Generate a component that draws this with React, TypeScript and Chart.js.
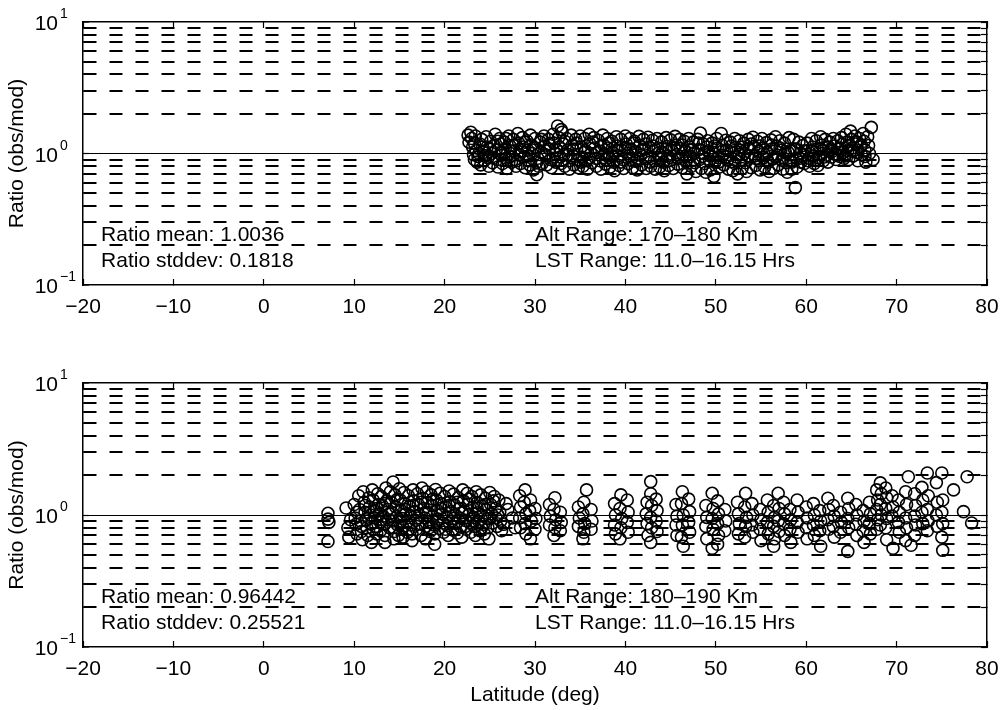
import React, { useEffect, useRef } from "react";
import { Chart, registerables } from "chart.js";

Chart.register(...registerables);

const FONT = "'Liberation Sans', Arial, Helvetica, sans-serif";

const xTickValues = [-20, -10, 0, 10, 20, 30, 40, 50, 60, 70, 80];
const yTickValues = [0.1, 0.2, 0.3, 0.4, 0.5, 0.6, 0.7, 0.8, 0.9, 1, 2, 3, 4, 5, 6, 7, 8, 9, 10];
const yMajorValues = [0.1, 1, 10];
const yExponents = ["\u22121", "0", "1"];

const yTitle = "Ratio (obs/mod)";
const xTitle = "Latitude (deg)";

const topStats = ["Ratio mean: 1.0036", "Ratio stddev: 0.1818"];
const topRanges = ["Alt Range: 170\u2013180 Km", "LST Range: 11.0\u201316.15 Hrs"];
const bottomStats = ["Ratio mean: 0.96442", "Ratio stddev: 0.25521"];
const bottomRanges = ["Alt Range: 180\u2013190 Km", "LST Range: 11.0\u201316.15 Hrs"];

// [latitude, ratio]
const topPoints: [number, number][] = [
  [22.6,1.38],[22.7,1.22],[22.9,1.45],[23.0,1.30],[23.1,1.12],[23.2,0.98],[23.3,0.90],[23.4,1.36],[23.5,1.05],[23.6,0.86],[23.7,0.95],[23.9,1.18],[24.0,0.82],[24.1,1.28],[24.3,1.02],[24.4,0.88],
  [24.6,1.34],[24.7,1.12],[24.8,0.93],[24.9,0.80],[25.1,1.24],[25.2,1.00],[25.3,0.85],[25.5,1.15],[25.6,1.40],[25.7,1.06],[25.8,0.90],[25.9,0.79],
  [26.1,1.30],[26.2,1.18],[26.3,0.97],[26.4,0.84],[26.6,1.22],[26.7,1.08],[26.8,0.92],[26.9,0.77],[27.1,1.36],[27.2,1.15],[27.3,1.00],[27.4,0.86],[27.6,1.28],[27.7,1.04],[27.8,0.90],[27.9,0.80],
  [28.1,1.42],[28.2,1.20],[28.3,0.98],[28.4,0.84],[28.6,1.32],[28.7,1.12],[28.8,0.94],[28.9,0.78],[29.1,1.25],[29.2,1.06],[29.3,0.88],[29.4,0.82],[29.5,1.38],[29.6,1.16],[29.7,1.00],[29.8,0.75],
  [30.0,1.30],[30.1,1.10],[30.2,0.69],[30.3,0.92],[30.4,0.80],[30.6,1.22],[30.7,1.02],[30.8,0.84],[31.0,1.36],[31.1,1.14],[31.2,0.96],[31.3,0.82],[31.5,1.28],[31.6,1.08],[31.7,0.90],[31.8,0.78],
  [32.0,1.40],[32.1,1.20],[32.2,1.00],[32.3,0.86],[32.5,1.62],[32.6,1.32],[32.7,1.12],[32.8,0.94],[32.9,1.52],[33.0,1.45],[33.1,1.18],[33.2,0.98],[33.3,0.80],[33.5,1.30],[33.6,1.06],[33.7,0.88],[33.8,0.76],
  [34.0,1.38],[34.1,1.15],[34.2,0.96],[34.3,0.82],[34.5,1.28],[34.6,1.08],[34.7,0.90],[34.8,0.78],[35.0,1.36],[35.1,1.12],[35.2,0.94],[35.3,0.80],[35.5,1.30],[35.6,1.05],[35.7,0.88],[35.8,0.76],
  [36.0,1.40],[36.1,1.18],[36.2,1.00],[36.3,0.85],[36.5,1.32],[36.6,1.10],[36.7,0.92],[36.8,0.80],[37.0,1.26],[37.1,1.04],[37.2,0.88],[37.3,0.76],[37.5,1.38],[37.6,1.16],[37.7,0.98],[37.8,0.83],
  [38.0,1.30],[38.1,1.10],[38.2,0.93],[38.3,0.79],[38.5,1.24],[38.6,1.02],[38.7,0.86],[38.8,0.74],[39.0,1.34],[39.1,1.14],[39.2,0.96],[39.3,0.81],[39.5,1.28],[39.6,1.06],[39.7,0.90],[39.8,0.77],
  [40.0,1.36],[40.1,1.18],[40.2,1.00],[40.3,0.84],[40.5,1.30],[40.6,1.08],[40.7,0.92],[40.8,0.78],[41.0,1.24],[41.1,1.03],[41.2,0.87],[41.3,0.75],[41.5,1.35],[41.6,1.15],[41.7,0.97],[41.8,0.82],
  [42.0,1.28],[42.1,1.08],[42.2,0.91],[42.3,0.77],[42.5,1.33],[42.6,1.12],[42.7,0.95],[42.8,0.80],[43.0,1.26],[43.1,1.05],[43.2,0.88],[43.3,0.76],[43.5,1.30],[43.6,1.10],[43.7,0.93],[43.8,0.79],
  [44.0,1.22],[44.1,1.02],[44.2,0.86],[44.3,0.74],[44.5,1.32],[44.6,1.13],[44.7,0.96],[44.8,0.81],[45.0,1.27],[45.1,1.06],[45.2,0.90],[45.3,0.77],[45.5,1.35],[45.6,1.16],[45.7,0.98],[45.8,0.83],
  [46.0,1.28],[46.1,1.09],[46.2,0.92],[46.3,0.78],[46.5,1.24],[46.6,1.04],[46.7,0.87],[46.8,0.70],[47.0,1.30],[47.1,1.12],[47.2,0.95],[47.3,0.80],[47.5,1.22],[47.6,1.01],[47.7,0.85],[47.8,0.73],
  [48.0,1.28],[48.1,1.07],[48.2,0.90],[48.3,1.43],[48.4,0.77],[48.6,1.18],[48.7,1.00],[48.8,0.84],[48.9,0.72],[49.1,1.25],[49.2,1.05],[49.3,0.88],[49.4,0.75],[49.6,1.20],[49.7,1.02],[49.8,0.67],[49.9,0.86],
  [50.1,1.30],[50.2,1.10],[50.3,0.93],[50.4,0.79],[50.6,1.42],[50.7,1.15],[50.8,0.97],[50.9,0.82],[51.1,1.26],[51.2,1.06],[51.3,0.89],[51.4,0.76],[51.6,1.22],[51.7,1.03],[51.8,0.87],[51.9,0.74],
  [52.1,1.30],[52.2,1.11],[52.3,0.94],[52.4,0.70],[52.6,1.25],[52.7,1.06],[52.8,0.90],[52.9,0.77],[53.1,1.20],[53.2,1.00],[53.3,0.85],[53.4,0.73],[53.6,1.28],[53.7,1.09],[53.8,0.92],[53.9,0.78],
  [54.1,1.33],[54.2,1.13],[54.3,0.96],[54.4,0.81],[54.6,1.24],[54.7,1.04],[54.8,0.88],[54.9,0.75],[55.1,1.30],[55.2,1.10],[55.3,0.93],[55.4,0.79],[55.6,1.21],[55.7,1.02],[55.8,0.86],[55.9,0.73],
  [56.1,1.27],[56.2,1.08],[56.3,0.91],[56.4,0.77],[56.6,1.34],[56.7,1.14],[56.8,0.97],[56.9,0.82],[57.1,1.25],[57.2,1.06],[57.3,0.89],[57.4,0.76],[57.6,1.20],[57.7,1.01],[57.8,0.85],[57.9,0.72],
  [58.1,1.32],[58.2,1.05],[58.3,0.88],[58.4,0.76],[58.6,1.28],[58.7,1.08],[58.8,0.55],[58.9,0.92],[59.0,0.79],[59.2,1.22],[59.3,1.00],[59.4,0.86],[59.6,1.15],[59.7,0.98],[59.8,0.84],
  [60.1,1.20],[60.2,1.05],[60.3,0.92],[60.4,0.80],[60.6,1.30],[60.7,1.12],[60.8,0.96],[60.9,0.84],[61.1,1.25],[61.2,1.08],[61.3,0.81],[61.4,0.93],[61.6,1.34],[61.7,1.16],[61.8,1.00],[61.9,0.88],
  [62.1,1.28],[62.2,1.12],[62.3,0.97],[62.4,0.86],[62.6,1.22],[62.7,1.06],[62.8,0.94],[63.0,1.30],[63.1,1.14],[63.2,0.99],[63.3,0.90],[63.5,1.25],[63.6,1.08],[63.7,0.95],
  [63.9,1.32],[64.0,1.18],[64.1,1.02],[64.2,0.92],[64.4,1.40],[64.5,1.22],[64.6,1.05],[64.7,0.90],[64.9,1.48],[65.0,1.28],[65.1,1.10],[65.2,0.96],[65.4,1.36],[65.5,1.18],[65.6,1.02],[65.7,0.88],
  [65.9,1.30],[66.0,1.12],[66.1,0.98],[66.3,1.42],[66.4,1.24],[66.5,1.06],[66.6,0.86],[66.8,1.34],[66.9,1.15],[67.0,1.00],[67.2,1.58],[67.4,0.90],
  [23.3,1.20],[23.8,1.00],[24.2,1.12],[24.5,0.96],[25.0,1.08],[25.4,0.92],[25.9,1.24],[26.3,1.02],[26.8,1.30],[27.2,0.94],[27.6,1.15],[28.0,0.88],[28.5,1.05],[28.9,1.22],[29.3,0.96],[29.8,1.10],
  [30.2,0.86],[30.7,1.28],[31.1,0.98],[31.6,1.18],[32.0,0.92],[32.4,1.06],[32.9,0.84],[33.3,1.24],[33.7,0.98],[34.2,1.08],[34.6,1.20],[35.1,0.86],[35.5,1.02],[36.0,0.92],[36.4,1.22],[36.9,1.02],
  [37.3,1.14],[37.8,0.90],[38.2,1.20],[38.6,0.95],[39.1,1.06],[39.5,0.86],[40.0,1.10],[40.4,0.96],[40.9,1.20],[41.3,0.92],[41.8,1.06],[42.2,1.18],[42.7,0.86],[43.1,1.14],[43.6,1.00],[44.0,0.92],
  [44.5,1.08],[44.9,0.88],[45.4,1.10],[45.8,0.92],[46.3,1.16],[46.7,0.96],[47.2,1.06],[47.6,0.90],[48.1,1.20],[48.5,0.95],[49.0,1.12],[49.4,0.96],[49.9,1.14],[50.3,0.86],[50.8,1.05],[51.2,0.94],
  [51.7,1.14],[52.1,0.84],[52.6,0.98],[53.0,1.12],[53.5,0.96],[53.9,1.18],[54.4,0.92],[54.8,1.14],[55.3,1.00],[55.7,0.90],[56.2,1.16],[56.6,0.94],[57.1,1.10],[57.5,0.92],[58.0,1.02],[58.4,0.86],
  [58.9,1.08],[59.3,0.92],[59.8,1.05],[60.2,0.88],[60.7,1.04],[61.1,0.90],[61.6,1.08],[62.0,0.94],[62.5,1.12],[62.9,1.04],[63.4,0.98],[63.8,1.10],[64.3,0.96],[64.7,1.14],[65.2,1.04],[65.6,1.22],[66.1,1.16],[66.5,0.95],
];

const bottomPoints: [number, number][] = [
  [7.1,1.03],[7.1,0.93],[7.2,0.88],[7.1,0.63],[9.1,1.13],[9.3,0.80],[9.4,0.68],[9.6,0.92],
  [10.0,1.20],[10.1,0.95],[10.2,0.85],[10.3,0.72],[10.5,1.40],[10.6,1.10],[10.7,0.90],[10.8,0.75],[10.9,0.65],
  [11.0,1.50],[11.1,1.25],[11.2,1.05],[11.3,0.92],[11.4,0.80],[11.5,0.70],[11.6,1.35],[11.7,1.15],[11.8,1.00],[11.9,0.86],[11.9,0.62],
  [12.0,1.55],[12.1,1.30],[12.2,1.08],[12.3,0.95],[12.4,0.82],[12.5,0.72],[12.6,1.45],[12.7,1.20],[12.8,1.02],[12.9,0.88],[12.9,0.76],
  [13.0,1.38],[13.1,1.18],[13.2,0.98],[13.3,0.85],[13.4,0.70],[13.4,0.62],[13.5,1.60],[13.6,1.28],[13.7,1.10],[13.8,0.92],[13.9,0.80],
  [14.0,1.50],[14.1,1.25],[14.2,1.04],[14.3,1.78],[14.3,0.90],[14.4,0.75],[14.4,0.66],[14.5,1.42],[14.6,1.15],[14.7,0.97],[14.8,0.84],[14.9,0.70],
  [15.0,1.58],[15.1,1.30],[15.2,1.08],[15.3,0.94],[15.4,0.80],[15.4,0.68],[15.5,1.48],[15.6,1.22],[15.7,1.02],[15.8,0.88],[15.9,0.74],
  [16.0,1.40],[16.1,1.16],[16.2,0.99],[16.3,0.84],[16.4,0.72],[16.4,0.64],[16.5,1.55],[16.6,1.28],[16.7,1.06],[16.8,0.91],[16.9,0.78],
  [17.0,1.45],[17.1,1.20],[17.2,1.00],[17.3,0.86],[17.4,0.70],[17.5,1.60],[17.6,1.34],[17.7,1.12],[17.8,0.95],[17.9,0.82],[17.9,0.66],
  [18.0,1.50],[18.1,1.24],[18.2,1.04],[18.3,0.89],[18.4,0.75],[18.5,1.42],[18.6,1.18],[18.7,0.98],[18.8,0.84],[18.9,0.72],[18.9,0.60],
  [19.0,1.56],[19.1,1.30],[19.2,1.08],[19.3,0.93],[19.4,0.79],[19.5,1.46],[19.6,1.22],[19.7,1.02],[19.8,0.87],[19.9,0.74],
  [20.0,1.38],[20.1,1.15],[20.2,0.97],[20.3,0.83],[20.4,0.70],[20.5,1.52],[20.6,1.26],[20.7,1.06],[20.8,0.90],[20.9,0.77],
  [21.0,1.44],[21.1,1.19],[21.2,1.00],[21.3,0.86],[21.4,0.73],[21.5,1.35],[21.6,1.12],[21.7,0.95],[21.8,0.81],[21.9,0.68],
  [22.0,1.55],[22.1,1.28],[22.2,1.07],[22.3,0.91],[22.4,0.78],[22.5,1.46],[22.6,1.21],[22.7,1.01],[22.8,0.87],[22.9,0.74],
  [23.0,1.38],[23.1,1.14],[23.2,0.96],[23.3,0.82],[23.4,0.70],[23.5,1.50],[23.6,1.24],[23.7,1.04],[23.8,0.89],[23.9,0.76],
  [24.0,1.42],[24.1,1.17],[24.2,0.99],[24.3,0.85],[24.4,0.72],[24.5,1.34],[24.6,1.10],[24.7,0.94],[24.8,0.80],[24.9,0.66],
  [25.0,1.48],[25.1,1.20],[25.2,1.02],[25.3,0.87],[25.5,1.38],[25.6,1.12],[25.7,0.95],[25.8,0.82],[26.0,1.30],[26.1,1.05],[26.2,0.90],[26.3,0.76],
  [10.3,1.05],[10.8,0.82],[11.2,1.18],[11.6,0.95],[12.1,0.78],[12.5,1.12],[13.0,0.92],[13.4,1.22],[13.9,1.02],[14.3,0.80],[14.8,1.32],[15.2,0.90],[15.6,1.10],[16.1,0.78],
  [16.5,1.18],[17.0,0.95],[17.4,1.25],[17.9,1.05],[18.3,0.80],[18.7,1.32],[19.2,0.90],[19.6,1.12],[20.1,0.78],[20.5,1.18],[21.0,0.94],[21.4,1.25],[21.9,1.04],[22.3,0.82],
  [22.7,1.32],[23.2,0.90],[23.6,1.12],[24.1,0.80],[24.5,1.20],[25.0,0.94],[25.4,1.28],[25.9,1.00],[26.5,0.85],[27.0,1.10],[27.5,0.95],[27.8,0.80],[26.8,1.22],
  [28.3,1.40],[28.4,1.15],[28.3,0.95],[28.4,0.80],[28.9,1.55],[28.8,1.25],[29.0,1.02],[28.9,0.86],[29.0,0.72],[29.5,1.30],[29.4,1.08],[29.6,0.90],[29.5,0.66],[30.0,1.12],[30.1,0.94],[30.0,0.78],
  [31.6,1.20],[31.7,0.98],[31.6,0.84],[32.2,1.35],[32.1,1.10],[32.3,0.92],[32.2,0.80],[32.1,0.70],[32.8,1.05],[32.9,0.88],[32.8,0.76],
  [34.8,1.15],[34.9,0.95],[34.8,0.82],[35.4,1.25],[35.3,1.02],[35.5,0.86],[35.4,0.74],[35.3,0.66],[35.7,1.55],[36.2,1.10],[36.3,0.90],[36.2,0.78],
  [38.8,1.22],[38.9,1.00],[38.8,0.84],[38.9,0.72],[39.5,1.42],[39.4,1.12],[39.6,0.94],[39.5,0.80],[39.4,0.66],[40.2,1.30],[40.3,1.05],[40.2,0.88],[40.3,0.74],
  [42.4,1.25],[42.3,1.02],[42.4,0.86],[42.5,0.70],[42.8,1.79],[42.8,1.45],[42.9,1.18],[42.8,0.96],[42.9,0.80],[42.8,0.62],[43.4,1.32],[43.5,1.08],[43.4,0.90],[43.5,0.75],
  [45.6,1.20],[45.7,0.98],[45.6,0.84],[45.7,0.70],[46.3,1.50],[46.2,1.22],[46.4,1.00],[46.3,0.84],[46.2,0.68],[46.4,0.58],[47.0,1.32],[47.1,1.06],[47.0,0.88],[47.1,0.74],
  [48.9,1.18],[49.0,0.96],[48.9,0.82],[49.0,0.66],[49.6,1.46],[49.7,1.12],[49.6,0.94],[49.7,0.78],[49.6,0.56],[50.2,1.28],[50.3,1.02],[50.2,0.86],[50.3,0.70],[50.2,0.60],[51.0,1.10],[51.1,0.90],[51.0,0.76],
  [52.4,1.25],[52.5,1.02],[52.6,0.86],[52.5,0.72],[53.3,1.46],[53.2,1.15],[53.4,0.96],[53.3,0.82],[53.2,0.68],[54.0,1.22],[54.1,1.00],[54.0,0.84],[54.1,0.74],[54.9,1.10],[55.0,0.92],[54.9,0.78],[55.0,0.64],
  [55.7,1.30],[55.8,1.05],[55.7,0.88],[55.8,0.72],[56.4,1.18],[56.5,0.96],[56.4,0.82],[56.5,0.66],[56.4,0.58],[56.9,1.46],[57.0,1.12],[56.9,0.90],[57.0,0.75],[57.5,1.25],[57.6,1.02],[57.5,0.86],[57.6,0.70],[58.2,1.10],[58.3,0.92],[58.2,0.78],[58.3,0.62],
  [59.0,1.30],[59.1,1.05],[59.0,0.88],[59.1,0.74],[60.0,1.15],[60.1,0.95],[60.0,0.80],[60.1,0.66],[60.8,1.22],[60.9,1.00],[60.8,0.84],[60.9,0.70],[61.5,1.08],[61.6,0.90],[61.5,0.76],[61.6,0.58],
  [62.4,1.34],[62.5,1.10],[62.4,0.92],[62.5,0.78],[63.0,1.18],[63.1,0.98],[63.0,0.82],[63.1,0.68],[63.8,1.05],[63.9,0.88],[63.8,0.74],[64.6,1.34],[64.7,1.12],[64.6,0.94],[64.7,0.80],[64.6,0.53],
  [65.5,1.20],[65.6,1.00],[65.5,0.85],[65.6,0.70],[66.3,1.08],[66.4,0.90],[66.3,0.76],[66.4,0.62],[67.0,1.25],[67.1,1.02],[67.0,0.86],[67.1,0.72],
  [67.8,1.55],[67.9,1.30],[67.8,1.10],[67.9,0.92],[67.8,0.78],[68.2,1.75],[68.3,1.45],[68.2,1.20],[68.3,1.00],[68.2,0.84],[68.8,1.60],[68.9,1.35],[68.8,1.12],[68.9,0.94],[68.8,0.80],[68.9,0.65],
  [69.5,1.40],[69.6,1.15],[69.5,0.98],[69.6,0.56],[70.2,1.30],[70.3,1.05],[70.2,0.88],[70.3,0.74],[71.0,1.50],[71.1,1.20],[71.0,0.95],[71.1,0.80],[71.0,0.64],[71.3,1.95],[71.6,0.59],
  [72.0,1.45],[72.1,1.18],[72.0,0.98],[72.1,0.84],[72.0,0.70],[72.8,1.62],[72.9,1.30],[72.8,1.05],[72.9,0.86],[73.4,2.08],[73.5,1.40],[73.4,1.10],[73.5,0.90],[73.4,0.76],
  [74.4,1.76],[74.5,1.25],[74.4,1.00],[74.5,0.82],[75.0,2.08],[75.1,1.30],[75.0,1.05],[75.1,0.86],[75.0,0.68],[75.1,0.54],[76.3,1.55],[77.4,1.06],[77.8,1.95],[78.3,0.87],
];

const fmtX = (v: number) => (v < 0 ? "\u2212" + Math.abs(v) : String(v));

function annotatePlugin(stats: string[], ranges: string[]) {
  return {
    id: "annotate",
    afterDraw(chart: any) {
      const { ctx } = chart;
      const x = chart.scales.x;
      const y = chart.scales.y;
      ctx.save();
      ctx.fillStyle = "#000";
      ctx.font = `21px ${FONT}`;
      ctx.textBaseline = "middle";
      ctx.textAlign = "left";
      const lineVals = [0.24, 0.152];
      stats.forEach((s, i) => ctx.fillText(s, x.getPixelForValue(-18), y.getPixelForValue(lineVals[i])));
      ranges.forEach((s, i) => ctx.fillText(s, x.getPixelForValue(30), y.getPixelForValue(lineVals[i])));
      yMajorValues.forEach((v, i) => {
        const py = y.getPixelForValue(v);
        ctx.font = `21px ${FONT}`;
        ctx.textAlign = "right";
        ctx.textBaseline = "alphabetic";
        ctx.fillText("10", y.right - 25, py + 8);
        ctx.font = `14px ${FONT}`;
        ctx.textAlign = "left";
        ctx.fillText(yExponents[i], y.right - 23, py - 4);
      });
      ctx.restore();
    },
  };
}

function makeConfig(points: [number, number][], stats: string[], ranges: string[], axisH: number, showXTitle: boolean): any {
  const setXTicks = (s: any) => {
    s.ticks = xTickValues.map((v) => ({ value: v }));
  };
  const setYTicks = (s: any) => {
    s.ticks = yTickValues.map((v) => ({ value: v, major: yMajorValues.includes(v) }));
  };
  return {
    type: "scatter",
    data: {
      datasets: [
        {
          data: points.map(([lat, r]) => ({ x: lat, y: r })),
          pointStyle: "circle",
          pointRadius: 6,
          pointBorderWidth: 1.6,
          borderColor: "#000",
          backgroundColor: "rgba(0,0,0,0)",
          showLine: false,
        },
      ],
    },
    options: {
      animation: false,
      responsive: false,
      maintainAspectRatio: false,
      devicePixelRatio: 1,
      layout: { padding: { top: 22, right: 18, left: 0, bottom: 0 } },
      plugins: { legend: { display: false }, tooltip: { enabled: false } },
      scales: {
        x: {
          type: "linear",
          position: "bottom",
          min: -20,
          max: 80,
          afterBuildTicks: setXTicks,
          ticks: { callback: (v: number) => fmtX(v), padding: 16, maxRotation: 0, autoSkip: false, color: "#000", font: { size: 21, family: FONT } },
          grid: { drawOnChartArea: false, drawTicks: true, tickLength: -6, color: "#000", tickWidth: 1.2 },
          border: { display: true, color: "#000", width: 1.5 },
          title: { display: showXTitle, text: xTitle, color: "#000", font: { size: 21, family: FONT }, padding: { top: 0, bottom: 2 } },
          afterFit: (s: any) => { s.height = axisH; s.paddingLeft = 0; s.paddingRight = 0; },
        },
        x2: {
          type: "linear",
          position: "top",
          display: true,
          min: -20,
          max: 80,
          afterBuildTicks: setXTicks,
          ticks: { display: false },
          grid: { drawOnChartArea: false, drawTicks: true, tickLength: -6, color: "#000", tickWidth: 1.2 },
          border: { display: true, color: "#000", width: 1.5 },
          afterFit: (s: any) => { s.height = 0; s.paddingLeft = 0; s.paddingRight = 0; },
        },
        y: {
          type: "logarithmic",
          position: "left",
          min: 0.1,
          max: 10,
          afterBuildTicks: setYTicks,
          ticks: { display: false },
          grid: {
            drawOnChartArea: true,
            drawTicks: true,
            tickLength: -6,
            color: (c: any) => (c.tick && (c.tick.value === 0.1 || c.tick.value === 10) ? "rgba(0,0,0,0)" : "#000"),
            lineWidth: (c: any) => (c.tick && c.tick.value === 1 ? 1 : 2),
            tickColor: "#000",
            tickWidth: 1.2,
          },
          border: {
            display: true,
            color: "#000",
            width: 1.5,
            dash: (c: any) => (c.tick && c.tick.value === 1 ? [] : [13, 13]),
          },
          title: { display: true, text: yTitle, color: "#000", font: { size: 21, family: FONT }, padding: { top: 5, bottom: 0 } },
          afterFit: (s: any) => { s.width = 83; s.paddingTop = 0; s.paddingBottom = 0; },
        },
        y2: {
          type: "logarithmic",
          position: "right",
          display: true,
          min: 0.1,
          max: 10,
          afterBuildTicks: setYTicks,
          ticks: { display: false },
          grid: { drawOnChartArea: false, drawTicks: true, tickLength: -6, color: "#000", tickWidth: 1.2 },
          border: { display: true, color: "#000", width: 1.5 },
          afterFit: (s: any) => { s.width = 0; s.paddingTop = 0; s.paddingBottom = 0; },
        },
      },
    },
    plugins: [annotatePlugin(stats, ranges)],
  };
}

export default function App() {
  const topRef = useRef<HTMLCanvasElement>(null);
  const bottomRef = useRef<HTMLCanvasElement>(null);

  useEffect(() => {
    Chart.defaults.font.family = FONT;
    Chart.defaults.color = "#000";
    const c1 = new Chart(topRef.current as HTMLCanvasElement, makeConfig(topPoints, topStats, topRanges, 76, false));
    const c2 = new Chart(bottomRef.current as HTMLCanvasElement, makeConfig(bottomPoints, bottomStats, bottomRanges, 63, true));
    return () => {
      c1.destroy();
      c2.destroy();
    };
  }, []);

  return (
    <div style={{ position: "fixed", left: 0, top: 0, width: 1005, height: 710, background: "#fff" }}>
      <canvas ref={topRef} width={1005} height={361} style={{ position: "absolute", left: 0, top: 0, width: 1005, height: 361 }} />
      <canvas ref={bottomRef} width={1005} height={349} style={{ position: "absolute", left: 0, top: 361, width: 1005, height: 349 }} />
    </div>
  );
}
